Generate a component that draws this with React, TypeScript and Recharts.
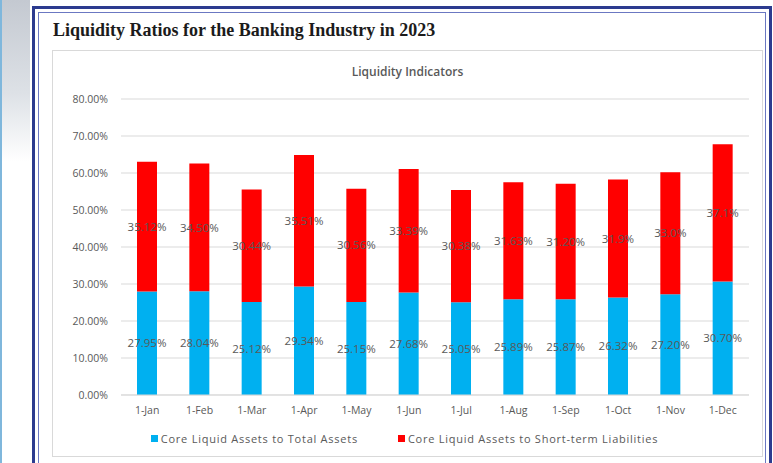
import { BarChart, Bar, XAxis, YAxis, CartesianGrid, Legend, LabelList } from "recharts";

const months = ["1-Jan", "1-Feb", "1-Mar", "1-Apr", "1-May", "1-Jun", "1-Jul", "1-Aug", "1-Sep", "1-Oct", "1-Nov", "1-Dec"];
const coreToTotal = [27.95, 28.04, 25.12, 29.34, 25.15, 27.68, 25.05, 25.89, 25.87, 26.32, 27.2, 30.7];
const coreToShortTerm = [35.12, 34.5, 30.44, 35.51, 30.56, 33.39, 30.38, 31.63, 31.2, 31.9, 33.0, 37.1];
const totalLabels = ["27.95%", "28.04%", "25.12%", "29.34%", "25.15%", "27.68%", "25.05%", "25.89%", "25.87%", "26.32%", "27.20%", "30.70%"];
const shortTermLabels = ["35.12%", "34.50%", "30.44%", "35.51%", "30.56%", "33.39%", "30.38%", "31.63%", "31.20%", "31.9%", "33.0%", "37.1%"];
const yTicks = [0, 10, 20, 30, 40, 50, 60, 70, 80];

const seriesNames = ["Core Liquid Assets to Total Assets", "Core Liquid Assets to Short-term Liabilities"];
const BLUE = "#00b0f0";
const RED = "#ff0000";
const GREY = "#595959";
const FONT = "'Open Sans', sans-serif";

const data = months.map((m, i) => ({
  month: m,
  total: coreToTotal[i],
  shortTerm: coreToShortTerm[i],
  totalLabel: totalLabels[i],
  shortTermLabel: shortTermLabels[i],
}));

function LegendBox() {
  const colors = [BLUE, RED];
  return (
    <div style={{ display: "flex", justifyContent: "center", gap: 40, height: 20, alignItems: "center", transform: "translate(4px, 3px)", fontFamily: FONT, fontSize: 11, letterSpacing: 0.75, color: GREY }}>
      {seriesNames.map((n, i) => (
        <div key={n} style={{ display: "flex", alignItems: "center", gap: 3 }}>
          <span style={{ width: 7, height: 7, background: colors[i], display: "inline-block" }} />
          <span>{n}</span>
        </div>
      ))}
    </div>
  );
}

export default function App() {
  return (
    <div style={{ position: "fixed", left: 0, top: 0, width: 773, height: 463, background: "#fff", overflow: "hidden" }}>
      {/* left strip */}
      <div style={{ position: "absolute", left: 0, top: 0, width: 30, height: 463, background: "linear-gradient(to bottom, #c4c9d1 0%, #dde1e6 20%, #fff 35%)", borderLeft: "2px solid #7fb7dc", boxSizing: "border-box" }} />
      {/* frame */}
      <div style={{ position: "absolute", left: 32, top: 6, width: 740, height: 480, border: "3px solid #2c3b8f", boxSizing: "border-box" }} />
      <div style={{ position: "absolute", left: 38, top: 12, width: 728, height: 470, border: "1px solid #6b78c2", boxSizing: "border-box" }} />
      <div style={{ position: "absolute", left: 53, top: 20, fontFamily: "'Liberation Serif', 'Times New Roman', serif", fontWeight: "bold", fontSize: 18, color: "#1b1b1b", whiteSpace: "nowrap" }}>
        Liquidity Ratios for the Banking Industry in 2023
      </div>
      {/* chart box */}
      <div style={{ position: "absolute", left: 52, top: 50, width: 711, height: 407, border: "1px solid #d9d9d9", boxSizing: "border-box" }} />
      <div style={{ position: "absolute", left: 52, top: 63, width: 711, textAlign: "center", fontFamily: FONT, fontSize: 12, fontWeight: 600, color: GREY }}>
        Liquidity Indicators
      </div>
      <div style={{ position: "absolute", left: 52, top: 50 }}>
        <BarChart width={711} height={407} data={data} margin={{ top: 49, right: 14, left: 0, bottom: 12 }}>
          <CartesianGrid vertical={false} stroke="#d9d9d9" />
          <XAxis dataKey="month" axisLine={{ stroke: "#d9d9d9" }} tickLine={false} tickSize={0} tickMargin={12} height={30} tick={{ fill: GREY, fontSize: 10.5, fontFamily: FONT }} />
          <YAxis width={69} domain={[0, 80]} ticks={yTicks} axisLine={false} tickLine={false} tickSize={0} tickMargin={13} tickFormatter={(v: number) => v.toFixed(2) + "%"} tick={{ fill: GREY, fontSize: 10.5, fontFamily: FONT }} />
          <Legend verticalAlign="bottom" content={() => <LegendBox />} />
          <Bar dataKey="total" name={seriesNames[0]} stackId="a" fill={BLUE} barSize={20} isAnimationActive={false}>
            <LabelList dataKey="totalLabel" position="center" fill={GREY} fontSize={11.5} fontFamily={FONT} />
          </Bar>
          <Bar dataKey="shortTerm" name={seriesNames[1]} stackId="a" fill={RED} barSize={20} isAnimationActive={false}>
            <LabelList dataKey="shortTermLabel" position="center" fill={GREY} fontSize={11.5} fontFamily={FONT} />
          </Bar>
        </BarChart>
      </div>
    </div>
  );
}
